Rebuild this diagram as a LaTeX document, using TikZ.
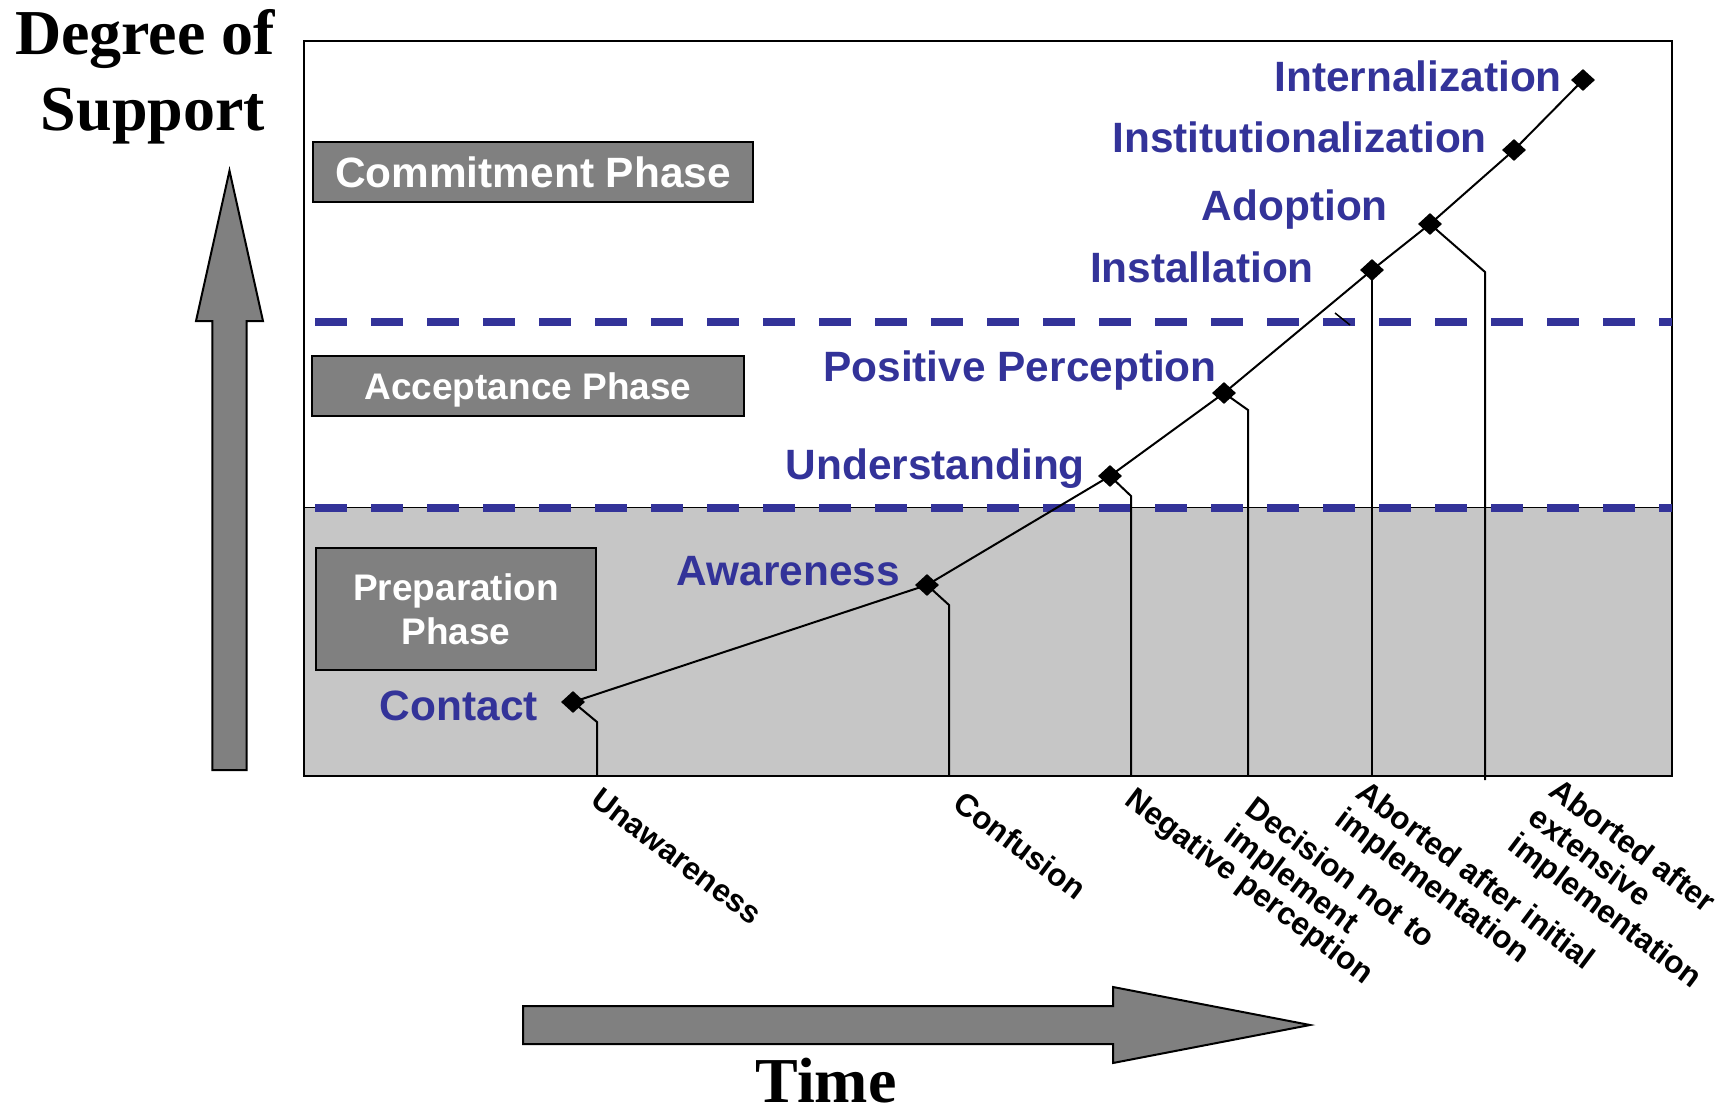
\documentclass[tikz,border=0pt]{standalone}
\usepackage{fontspec}
\setmainfont{Liberation Sans}
\newfontfamily\serifface{Liberation Serif}
\usetikzlibrary{shapes.geometric}
\definecolor{lblue}{RGB}{51,51,153}
\definecolor{boxgray}{RGB}{128,128,128}
\definecolor{areagray}{RGB}{198,198,198}
\tikzset{
  phasebox/.style={draw=black, line width=2pt, fill=boxgray, text=white, inner sep=0pt, align=center},
  stage/.style={text=lblue, font=\fontsize{42.4}{50}\selectfont\bfseries, inner sep=0pt, anchor=base east},
  outcome/.style={font=\fontsize{31.5}{34}\selectfont\bfseries, rotate=-37, anchor=north west, align=left, inner sep=0pt},
  dmd/.style={diamond, fill=black, minimum width=24pt, minimum height=22pt, inner sep=0pt},
  conn/.style={line width=2pt, black},
  drop/.style={line width=2pt, black},
  phaseline/.style={lblue, line width=8pt, dash pattern=on 32pt off 24pt},
  bigarrow/.style={draw=black, line width=2pt, fill=boxgray, line join=miter},
  axistitle/.style={font=\serifface\bfseries\fontsize{64}{72}\selectfont, inner sep=0pt, anchor=base}
}
\begin{document}
\begin{tikzpicture}[x=1pt,y=-1pt]
\useasboundingbox (0,0) rectangle (1725,1108);
% shaded preparation area and frame
\fill[areagray] (303.5,507.5) rectangle (1672,775.5);
\draw[line width=2pt] (303.5,41.5) rectangle (1672,775.5);
\draw[line width=1.5pt] (303.5,507.5) -- (1672,507.5);
\draw[phaseline] (315,321.5) -- (1672,321.5);
\draw[phaseline] (315,507.5) -- (1672,507.5);
% phase boxes
\node[phasebox, minimum width=440pt, minimum height=60pt, text depth=0pt, font=\fontsize{42.4}{50}\selectfont\bfseries] (commit) at (533,172) {Commitment Phase};
\node[phasebox, minimum width=432pt, minimum height=60pt, text depth=0pt, font=\fontsize{37}{44}\selectfont\bfseries] (accept) at (528,386) {Acceptance Phase};
\node[phasebox, minimum width=280pt, minimum height=122pt, font=\fontsize{37}{44}\selectfont\bfseries] (prep) at (456,609) {Preparation\\Phase};
% stage points
\coordinate (p1) at (573,702);
\coordinate (p2) at (927,585);
\coordinate (p3) at (1110,476);
\coordinate (p4) at (1224,393);
\coordinate (p5) at (1372,270);
\coordinate (p6) at (1430,224);
\coordinate (p7) at (1514,150);
\coordinate (p8) at (1583,80);
% bottom ends of drop lines
\coordinate (b1) at (597,775);
\coordinate (b2) at (949,775);
\coordinate (b3) at (1131,775);
\coordinate (b4) at (1248,775);
\coordinate (b5) at (1372,775);
\coordinate (b6) at (1485,780);
% drop lines
\draw[drop] (p1) -- (597,722) -- (b1);
\draw[drop] (p2) -- (949,605) -- (b2);
\draw[drop] (p3) -- (1131,496) -- (b3);
\draw[drop] (p4) -- (1248,410) -- (b4);
\draw[drop] (p5) -- (b5);
\draw[drop] (p6) -- (1485,272) -- (b6);
\draw[line width=1.5pt] (1335,313) -- (1350,325);
% diamonds
\node[dmd] (d1) at (p1) {};
\node[dmd] (d2) at (p2) {};
\node[dmd] (d3) at (p3) {};
\node[dmd] (d4) at (p4) {};
\node[dmd] (d5) at (p5) {};
\node[dmd] (d6) at (p6) {};
\node[dmd] (d7) at (p7) {};
\node[dmd] (d8) at (p8) {};
\draw[conn] (d1.center) -- (d2.center) -- (d3.center) -- (d4.center) -- (d5.center) -- (d6.center) -- (d7.center) -- (d8.center);
% stage labels
\node[stage] (l1) at (538,720) {Contact};
\node[stage] (l2) at (900,585) {Awareness};
\node[stage] (l3) at (1085,479) {Understanding};
\node[stage] (l4) at (1217,381) {Positive Perception};
\node[stage] (l5) at (1314,282) {Installation};
\node[stage] (l6) at (1388,220) {Adoption};
\node[stage] (l7) at (1487,152.5) {Institutionalization};
\node[stage] (l8) at (1562,92) {Internalization};
% outcome labels
\node[outcome] (o1) at (602,786) {Unawareness};
\node[outcome] (o2) at (965,789) {Confusion};
\node[outcome] (o3) at (1137,785) {Negative perception};
\node[outcome] (o4) at (1257,794) {Decision not to\\implement};
\node[outcome] (o5) at (1368,778) {Aborted after initial\\implementation};
\node[outcome] (o6) at (1561,776) {Aborted after\\extensive\\implementation};
% axes arrows
\draw[bigarrow] (212.3,770) -- (212.3,321) -- (196,321) -- (229.5,170.7) -- (263,321) -- (246.7,321) -- (246.7,770) -- cycle;
\draw[bigarrow] (523,1006) -- (1113,1006) -- (1113,987) -- (1310,1025) -- (1113,1063) -- (1113,1044) -- (523,1044) -- cycle;
\node[axistitle] (t1) at (145,55) {Degree of};
\node[axistitle] (t2) at (153,130) {Support};
\node[axistitle] (t3) at (826,1102) {Time};
\end{tikzpicture}
\end{document}
